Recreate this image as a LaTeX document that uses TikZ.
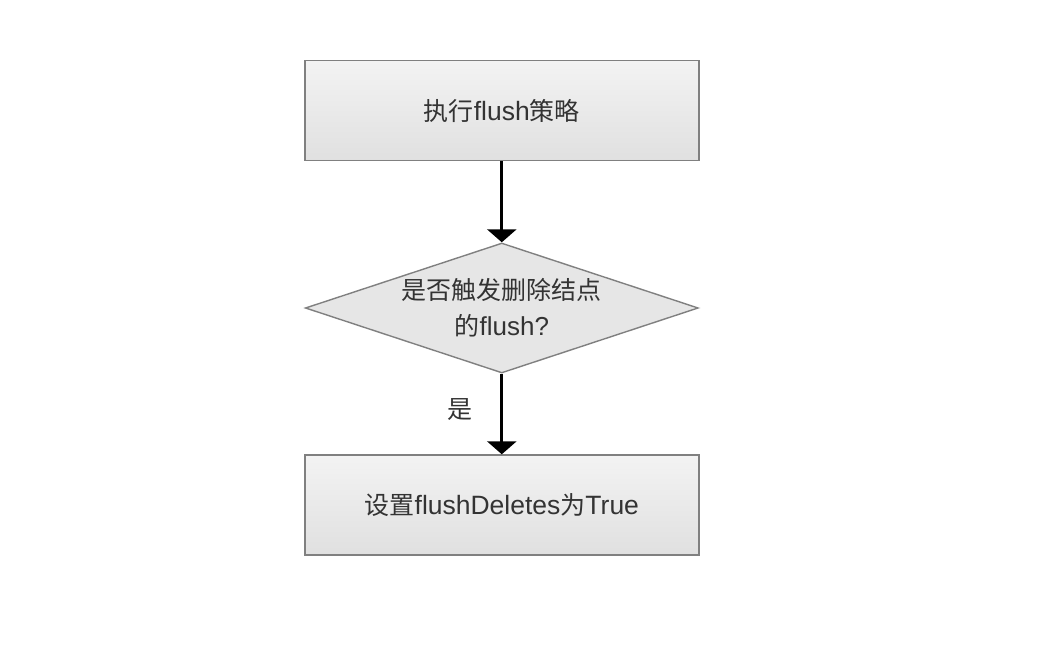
\documentclass[tikz,border=0pt]{standalone}
\usepackage{fontspec}
\setmainfont{Liberation Sans}
\newfontfamily\cjk{Noto Sans CJK SC}
\usetikzlibrary{arrows.meta,shapes.geometric}
\definecolor{bordergray}{HTML}{808080}
\definecolor{txt}{HTML}{333333}
\definecolor{topfill}{HTML}{F3F3F3}
\definecolor{botfill}{HTML}{E0E0E0}
\definecolor{dfill}{HTML}{E6E6E6}
\newcommand{\zh}[1]{{\cjk\fontsize{25}{30}\selectfont #1}}
\begin{document}
\begin{tikzpicture}[x=1pt,y=-1pt,
  procbox/.style={draw=bordergray, line width=1.4pt, top color=topfill, bottom color=botfill,
    minimum width=394pt, minimum height=100pt, inner sep=0pt, text=txt,
    font=\fontsize{26.5}{30}\selectfont},
  decbox/.style={draw=bordergray, line width=1.4pt, fill=dfill, diamond,
    minimum width=393pt, minimum height=130pt, inner sep=0pt},
  dectext/.style={text=txt, align=center, font=\fontsize{26}{36}\selectfont},
  arr/.style={line width=3pt, -{Triangle[length=13pt,width=29pt]}},
  lbl/.style={text=txt, font=\fontsize{25}{30}\selectfont}]
\useasboundingbox (0,0) rectangle (1060,660);
\fill[white] (0,0) rectangle (1060,660);
\node[procbox] (b1) at (501.8,110.7) {\zh{执行}flush\zh{策略}};
\node[decbox] (d) at (501.8,308) {};
\node[dectext] (dt) at (d.center) {\zh{是否触发删除结点}\\\zh{的}flush?};
\node[procbox] (b2) at (501.8,505) {\zh{设置}flushDeletes\zh{为}True};
\draw[arr] (b1.south) -- (d.north);
\draw[arr] (d.south) -- (b2.north);
\node[lbl] (yes) at (460,410) {\zh{是}};
\end{tikzpicture}
\end{document}
